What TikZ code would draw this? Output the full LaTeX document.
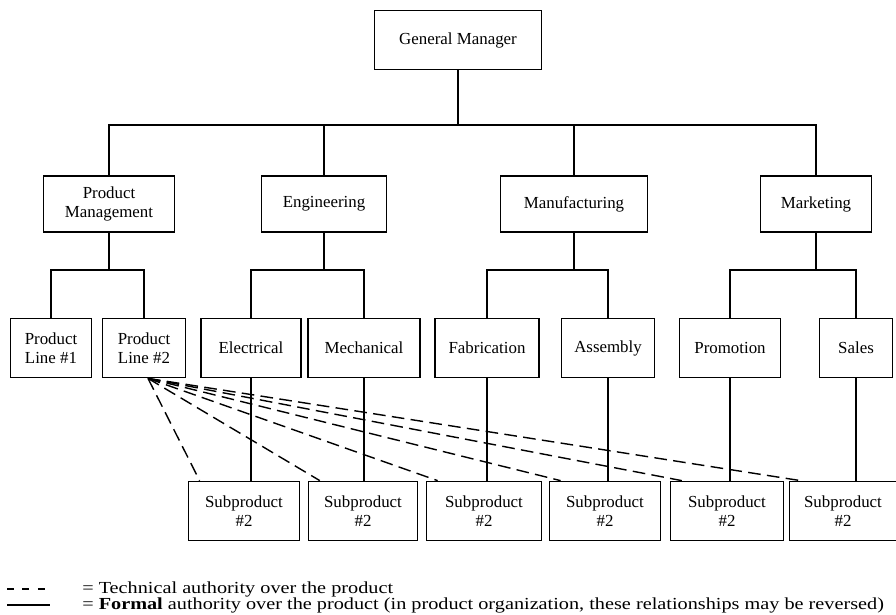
\documentclass[tikz,border=0pt]{standalone}
\usepackage{fontspec}
\setmainfont{Liberation Serif}
\newfontfamily\legendfont[FakeStretch=1.2]{Liberation Serif}
\usepackage{tikz}
\usetikzlibrary{arrows}

\begin{document}
\begin{tikzpicture}[x=0.025cm,y=-0.025cm,
box/.style={draw,line width=1.1pt,align=center,font=\fontsize{12}{13.5}\selectfont,inner sep=2pt},
top/.style={box,minimum height=1.48cm},
mid/.style={box,minimum height=1.4cm},
low/.style={box,minimum height=1.48cm},
sub/.style={box,minimum height=1.48cm},
tech/.style={line width=1pt,dash pattern=on 9pt off 4.5pt},
formal/.style={line width=1.1pt},
legend/.style={anchor=west,inner sep=0pt,font=\legendfont\fontsize{12}{13.5}\selectfont}]

\useasboundingbox (0,0) rectangle (896,614);

\node[top,minimum width=4.18cm] (gm) at (458,40) {General Manager};

\node[mid,minimum width=3.28cm] (pm) at (109,204) {Product\\Management};
\node[mid,minimum width=3.12cm] (eng) at (324,204) {Engineering};
\node[mid,minimum width=3.68cm] (mfg) at (574,204) {Manufacturing};
\node[mid,minimum width=2.78cm] (mkt) at (816,204) {Marketing};

\node[low,minimum width=2.02cm] (pl1) at (51,348) {Product\\Line \#1};
\node[low,minimum width=2.08cm] (pl2) at (144,348) {Product\\Line \#2};
\node[low,minimum width=2.5cm] (elec) at (251,348) {Electrical};
\node[low,minimum width=2.8cm] (mech) at (364,348) {Mechanical};
\node[low,minimum width=2.6cm] (fab) at (487,348) {Fabrication};
\node[low,minimum width=2.32cm] (asm) at (608,348) {Assembly};
\node[low,minimum width=2.52cm] (promo) at (730,348) {Promotion};
\node[low,minimum width=1.82cm] (sales) at (856,348) {Sales};

\node[sub,minimum width=2.78cm] (s1) at (244,511) {Subproduct\\\#2};
\node[sub,minimum width=2.72cm] (s2) at (363,511) {Subproduct\\\#2};
\node[sub,minimum width=2.88cm] (s3) at (484,511) {Subproduct\\\#2};
\node[sub,minimum width=2.78cm] (s4) at (605,511) {Subproduct\\\#2};
\node[sub,minimum width=2.82cm] (s5) at (727,511) {Subproduct\\\#2};
\node[sub,minimum width=2.68cm] (s6) at (843,511) {Subproduct\\\#2};

\coordinate (bus) at (0,125);
\coordinate (subbus) at (0,270);

% formal lines
\draw[formal] (gm.south) -- (gm.south |- bus);
\draw[formal] (pm.north) |- (mkt.north |- bus) -- (mkt.north);
\draw[formal] (eng.north) -- (eng.north |- bus) (mfg.north) -- (mfg.north |- bus);

\draw[formal] (pm.south) -- (pm.south |- subbus) (pl1.north) |- (pl2.north |- subbus) -- (pl2.north);
\draw[formal] (eng.south) -- (eng.south |- subbus) (elec.north) |- (mech.north |- subbus) -- (mech.north);
\draw[formal] (mfg.south) -- (mfg.south |- subbus) (fab.north) |- (asm.north |- subbus) -- (asm.north);
\draw[formal] (mkt.south) -- (mkt.south |- subbus) (promo.north) |- (sales.north |- subbus) -- (sales.north);

\draw[formal] (elec.south) -- (elec.south |- s1.north);
\draw[formal] (mech.south) -- (mech.south |- s2.north);
\draw[formal] (fab.south) -- (fab.south |- s3.north);
\draw[formal] (asm.south) -- (asm.south |- s4.north);
\draw[formal] (promo.south) -- (promo.south |- s5.north);
\draw[formal] (sales.south) -- (sales.south |- s6.north);

% technical lines
\foreach \i in {1,...,6}
{
\draw[tech] ([xshift=0.1cm]pl2.south) -- ([xshift=0.3cm]s\i.north west);
}

% legend
\coordinate (ta) at (7,589);
\coordinate (tb) at (50,589);
\coordinate (fa) at (7,605);
\coordinate (fb) at (50,605);
\draw[line width=0.8pt,dash pattern=on 5pt off 6pt] (ta) -- (tb);
\draw[line width=0.8pt] (fa) -- (fb);
\node[legend] (tl) at (82,589) {= Technical authority over the product};
\node[legend] (fl) at (82,605) {= \textbf{Formal} authority over the product (in product organization, these relationships may be reversed)};
\end{tikzpicture}
\end{document}
